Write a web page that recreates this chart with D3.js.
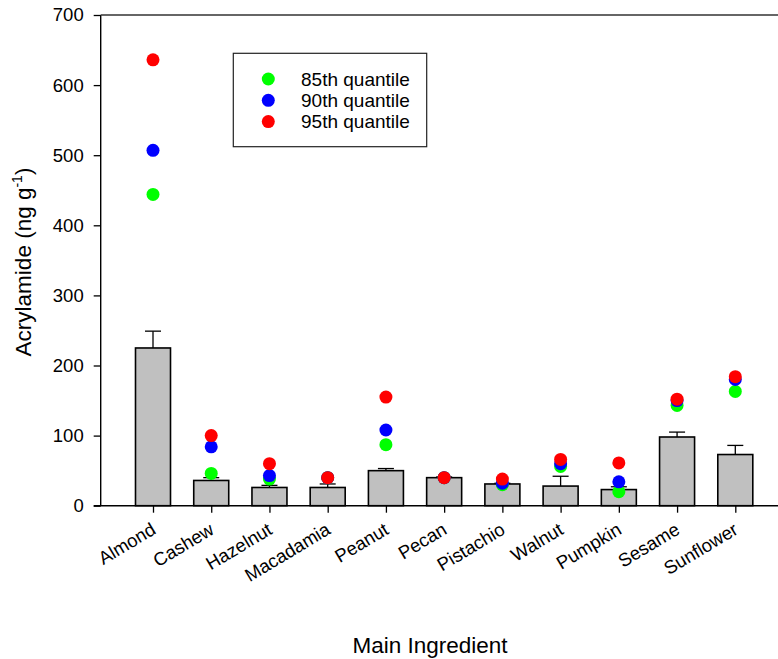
<!DOCTYPE html>
<html><head><meta charset="utf-8">
<script src="https://cdn.jsdelivr.net/npm/d3@7"></script>
<style>
body{margin:0;background:#fff;}
svg{display:block;font-family:"Liberation Sans",Arial,sans-serif;}
</style></head>
<body><svg id="c" width="778" height="659"></svg>
<script>
const categories = ["Almond","Cashew","Hazelnut","Macadamia","Peanut","Pecan","Pistachio","Walnut","Pumpkin","Sesame","Sunflower"];
const meanValues = [225, 36, 26, 26, 50, 40, 31, 28, 23, 98, 73];
const errorValues = [24, 4, 3, 5, 3, 1, 1, 14, 4, 7, 13];
const q85 = [444, 46, 38, 40, 87, 40, 30, 56, 20, 143, 163];
const q90 = [507, 84, 43, 40, 108, 40, 32, 60, 34, 150, 180];
const q95 = [636, 100, 60, 40, 155, 40, 38, 66, 61, 152, 184];
const yTicks = [0,100,200,300,400,500,600,700];
const seriesNames = ["85th quantile","90th quantile","95th quantile"];
const seriesColors = ["#00ff00","#0000ff","#ff0000"];

(function(){
const svg = d3.select("#c");
const pLeft = 100.7, pTop = 15, pBottom = 505.7, pRight = 778;
const x = d3.scalePoint().domain(categories).range([153, 735.3]);
const y = d3.scaleLinear().domain([0,700]).range([pBottom, pTop]);
const barW = 35;

// bars
svg.append("g").selectAll("rect").data(categories).join("rect")
  .attr("x", d => x(d) - barW/2)
  .attr("y", (d,i) => y(meanValues[i]))
  .attr("width", barW)
  .attr("height", (d,i) => y(0) - y(meanValues[i]))
  .attr("fill", "#c0c0c0").attr("stroke", "#000").attr("stroke-width", 1.6);

// error bars
const eg = svg.append("g").attr("stroke","#000").attr("stroke-width",1.3);
categories.forEach((c,i) => {
  const x0 = x(c), yt = y(meanValues[i] + errorValues[i]), yb = y(meanValues[i]);
  eg.append("line").attr("x1",x0).attr("x2",x0).attr("y1",yb).attr("y2",yt);
  eg.append("line").attr("x1",x0-8).attr("x2",x0+8).attr("y1",yt).attr("y2",yt);
});

// points
[q85,q90,q95].forEach((s,k) => {
  svg.append("g").selectAll("circle").data(categories).join("circle")
    .attr("cx", d => x(d)).attr("cy", (d,i) => y(s[i])).attr("r", 6.5)
    .attr("fill", seriesColors[k]);
});

// axes
const yAxis = d3.axisLeft(y).tickValues(yTicks).tickSize(7).tickSizeOuter(0).tickPadding(10);
const ga = svg.append("g").attr("transform",`translate(${pLeft},0)`).call(yAxis);
ga.select(".domain").remove();
ga.selectAll("line").attr("stroke","#000").attr("stroke-width",1.3);
ga.selectAll("text").attr("font-size","18.5px").attr("fill","#000").attr("font-family","Liberation Sans, Arial, sans-serif");

const xAxis = d3.axisBottom(x).tickSize(7).tickSizeOuter(0).tickFormat("");
const gx = svg.append("g").attr("transform",`translate(0,${pBottom})`).call(xAxis);
gx.select(".domain").remove();
gx.selectAll("line").attr("stroke","#000").attr("stroke-width",1.3);

// frame lines
svg.append("line").attr("x1",pLeft).attr("x2",pLeft).attr("y1",pTop).attr("y2",pBottom).attr("stroke","#000").attr("stroke-width",1.4);
svg.append("line").attr("x1",pLeft-7).attr("x2",pRight).attr("y1",pBottom).attr("y2",pBottom).attr("stroke","#000").attr("stroke-width",1.4);
svg.append("line").attr("x1",pLeft).attr("x2",pRight).attr("y1",pTop).attr("y2",pTop).attr("stroke","#333").attr("stroke-width",1.4);

// x labels
svg.append("g").selectAll("text").data(categories).join("text")
  .attr("transform", d => `translate(${x(d)+4},533) rotate(-31)`)
  .attr("text-anchor","end").attr("font-size","18.5px").attr("fill","#000")
  .text(d => d);

// axis titles
svg.append("text").attr("x", 430).attr("y", 652.7).attr("text-anchor","middle")
  .attr("font-size","22.5px").attr("fill","#000").text("Main Ingredient");
const yt = svg.append("text").attr("transform","translate(31,262) rotate(-90)")
  .attr("text-anchor","middle").attr("font-size","22.5px").attr("fill","#000");
yt.append("tspan").text("Acrylamide (ng g");
yt.append("tspan").attr("font-size","14px").attr("dy","-9").text("-1");
yt.append("tspan").attr("dy","9").text(")");

// legend
const lg = svg.append("g");
lg.append("rect").attr("x",233.3).attr("y",53.3).attr("width",193.4).attr("height",93.4)
  .attr("fill","#fff").attr("stroke","#222").attr("stroke-width",1.2);
seriesNames.forEach((n,k) => {
  const cy = 79 + k*21.3;
  lg.append("circle").attr("cx",268.3).attr("cy",cy).attr("r",6.5).attr("fill",seriesColors[k]);
  lg.append("text").attr("x",301).attr("y",cy).attr("dy","0.36em").attr("font-size","19px").attr("fill","#000").text(n);
});
})();
</script></body></html>
